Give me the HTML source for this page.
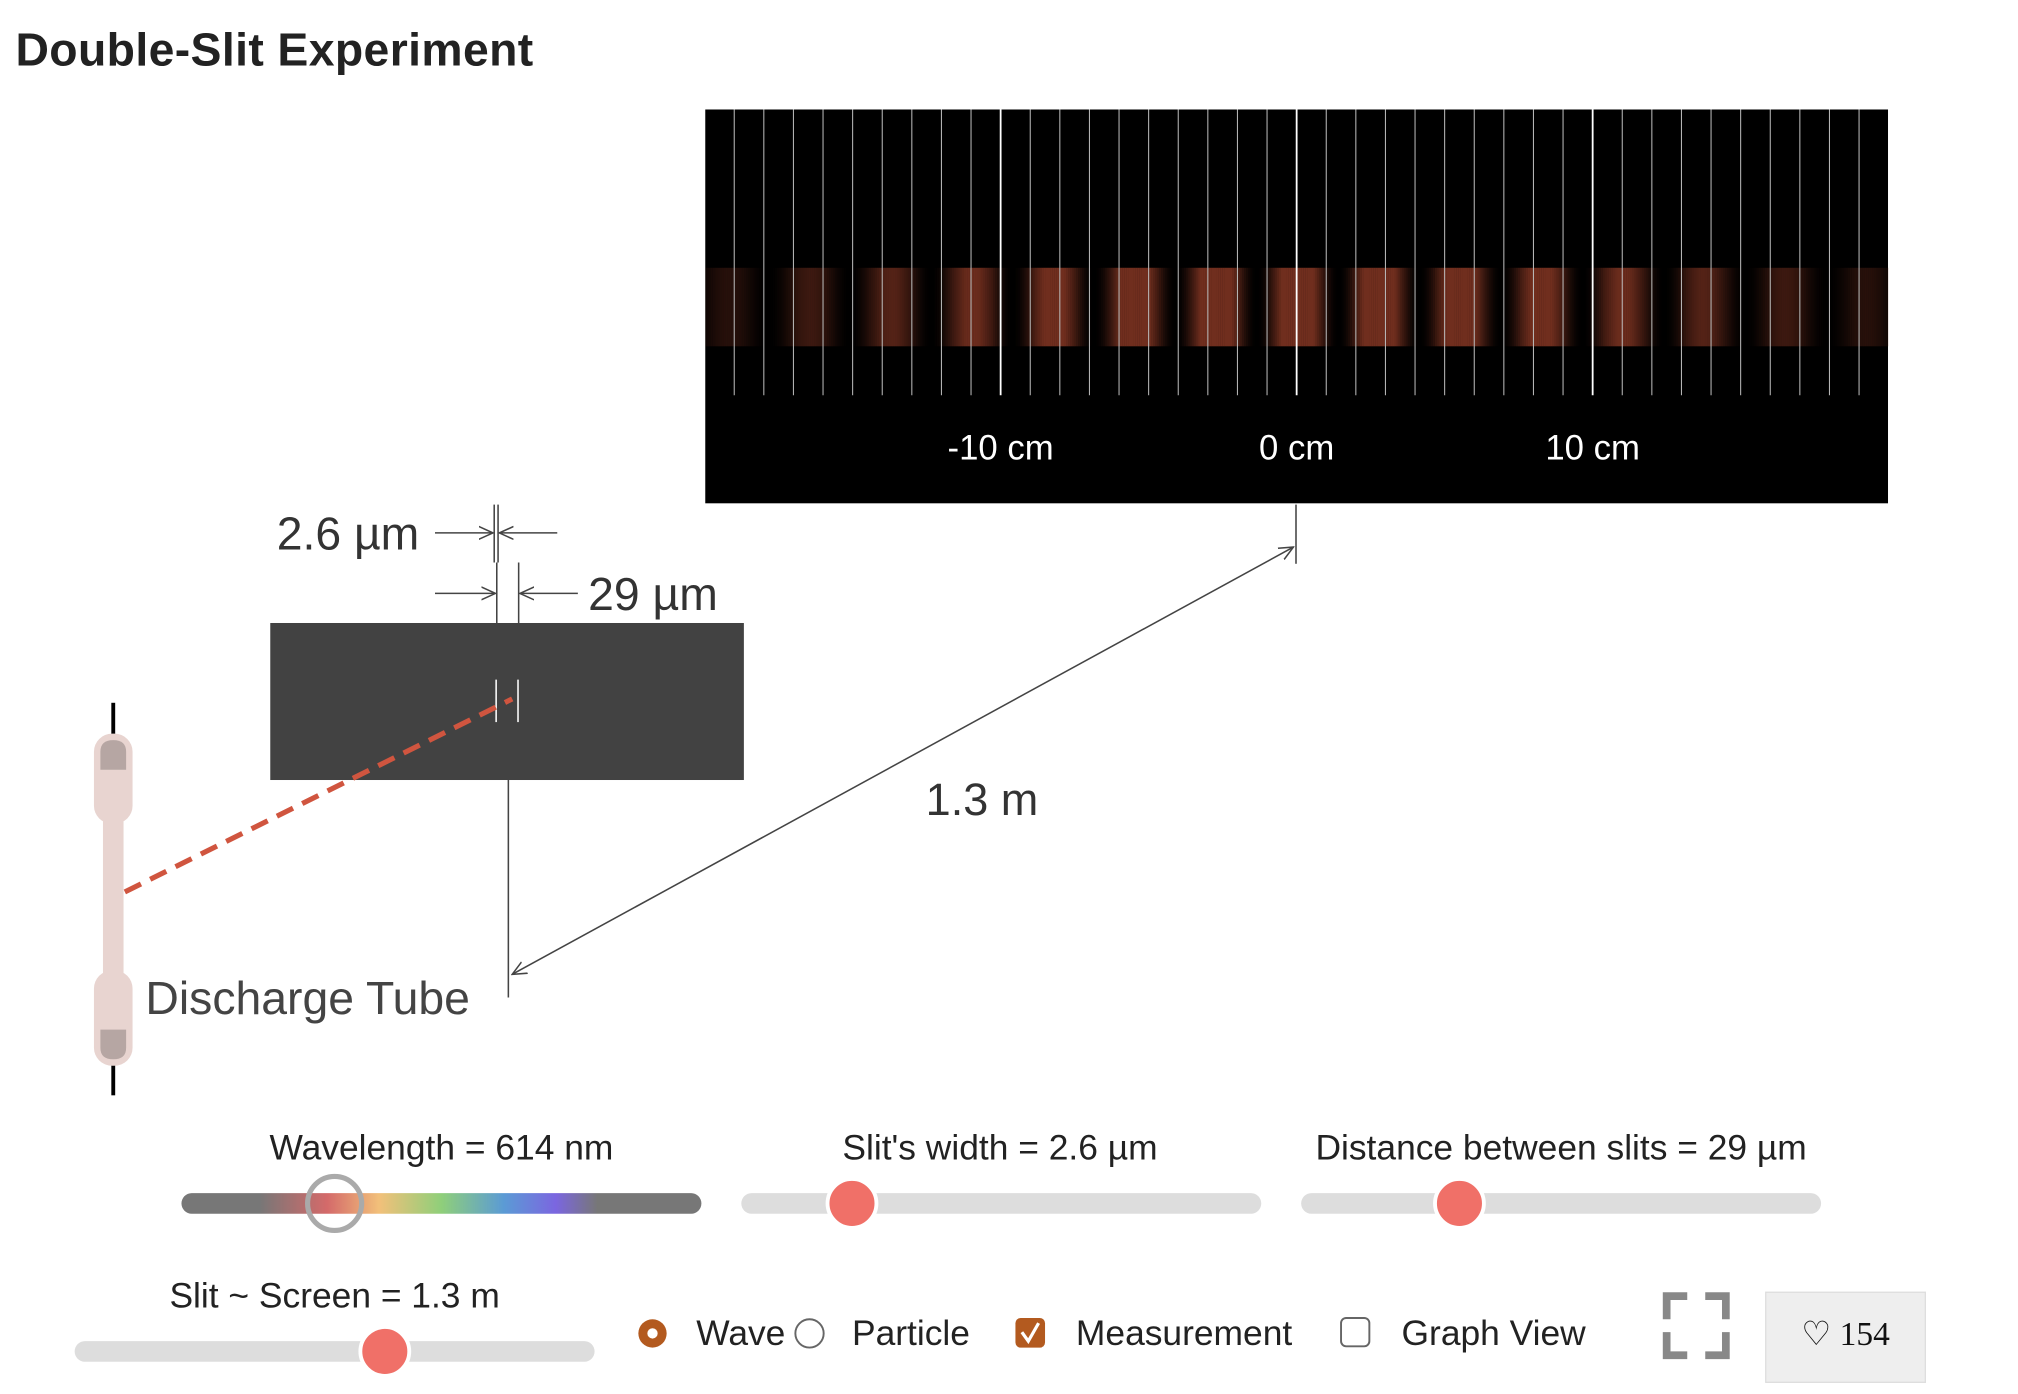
<!DOCTYPE html>
<html><head><meta charset="utf-8">
<style>
html,body{margin:0;padding:0;background:#fff;}
svg{display:block;font-family:"Liberation Sans",sans-serif;}
</style></head>
<body>
<svg id="root" width="2018" height="1394" viewBox="0 0 1568 1083">
<defs>
  <linearGradient id="spec" x1="0" x2="1" y1="0" y2="0">
    <stop offset="0" stop-color="#777"/><stop offset="0.15" stop-color="#777"/>
    <stop offset="0.28" stop-color="#d46a6a"/><stop offset="0.38" stop-color="#f2c07a"/>
    <stop offset="0.5" stop-color="#8fcf7a"/><stop offset="0.62" stop-color="#5b9bd5"/>
    <stop offset="0.72" stop-color="#7b66e0"/><stop offset="0.8" stop-color="#777"/>
    <stop offset="1" stop-color="#777"/>
  </linearGradient>
  <marker id="arr" viewBox="0 0 12 12" refX="11" refY="6" markerWidth="12" markerHeight="12" markerUnits="userSpaceOnUse" orient="auto-start-reverse">
    <path d="M0,1 L11,6 L0,11" fill="none" stroke="#444" stroke-width="1.2"/>
  </marker>
</defs>

<text x="12" y="51" font-size="36" font-weight="bold" fill="#222" letter-spacing="0.3">Double-Slit Experiment</text>

<g id="screen">
  <rect x="548" y="85" width="919" height="306" fill="#000"/>
  <g id="fringes"></g>
  <g id="grid"></g>
  <g id="ticklabels"></g>
</g>

<line x1="1007" y1="392" x2="1007" y2="438" stroke="#444" stroke-width="1.2"/>
<line x1="395" y1="606" x2="395" y2="775" stroke="#444" stroke-width="1.2"/>
<line x1="398" y1="757" x2="1005" y2="425" stroke="#444" stroke-width="1.2" marker-start="url(#arr)" marker-end="url(#arr)"/>
<text x="763" y="633" font-size="35" fill="#333" text-anchor="middle">1.3 m</text>

<rect x="210" y="484" width="368" height="122" fill="#424242"/>
<line x1="385.5" y1="528" x2="385.5" y2="561" stroke="#fff" stroke-width="1.2"/>
<line x1="402.5" y1="528" x2="402.5" y2="561" stroke="#fff" stroke-width="1.2"/>
<g stroke="#444" stroke-width="1.2" fill="none">
  <line x1="384" y1="392" x2="384" y2="437"/><line x1="387" y1="392" x2="387" y2="437"/>
  <line x1="338" y1="414" x2="383" y2="414" marker-end="url(#arr)"/>
  <line x1="433" y1="414" x2="388" y2="414" marker-end="url(#arr)"/>
</g>
<text x="215" y="427" font-size="36" fill="#333">2.6 µm</text>
<g stroke="#444" stroke-width="1.2" fill="none">
  <line x1="386" y1="437" x2="386" y2="484"/><line x1="403" y1="437" x2="403" y2="484"/>
  <line x1="338" y1="461" x2="385" y2="461" marker-end="url(#arr)"/>
  <line x1="449" y1="461" x2="404" y2="461" marker-end="url(#arr)"/>
</g>
<text x="457" y="474" font-size="36" fill="#333">29 µm</text>

<line x1="97" y1="693" x2="398" y2="543" stroke="#d0553f" stroke-width="4" stroke-dasharray="14 8"/>

<g>
  <line x1="88" y1="546" x2="88" y2="575" stroke="#000" stroke-width="3"/>
  <line x1="88" y1="824" x2="88" y2="851" stroke="#000" stroke-width="3"/>
  <rect x="73" y="570" width="30" height="70" rx="14" fill="#e8d4d0"/>
  <rect x="80" y="630" width="16" height="130" fill="#e8d4d0"/>
  <rect x="73" y="754" width="30" height="74" rx="14" fill="#e8d4d0"/>
  <path d="M78,598 L78,584 Q78,575 88,575 Q98,575 98,584 L98,598 Z" fill="#b6a6a3"/>
  <path d="M78,800 L98,800 L98,814 Q98,823 88,823 Q78,823 78,814 Z" fill="#b6a6a3"/>
</g>
<text x="113" y="788" font-size="36" fill="#444">Discharge Tube</text>

<g font-size="27.5" fill="#222" text-anchor="middle">
  <text x="343" y="901">Wavelength = 614 nm</text>
  <text x="777" y="901">Slit's width = 2.6 µm</text>
  <text x="1213" y="901">Distance between slits = 29 µm</text>
  <text x="260" y="1016">Slit ~ Screen = 1.3 m</text>
</g>
<g>
  <rect x="141" y="927" width="404" height="16" rx="8" fill="url(#spec)"/>
  <circle cx="260" cy="935" r="21" fill="none" stroke="#aaa" stroke-width="4"/>
</g>
<g>
  <rect x="576" y="927" width="404" height="16" rx="8" fill="#ddd"/>
  <circle cx="662" cy="935" r="19" fill="#f07068" stroke="#fff" stroke-width="3"/>
</g>
<g>
  <rect x="1011" y="927" width="404" height="16" rx="8" fill="#ddd"/>
  <circle cx="1134" cy="935" r="19" fill="#f07068" stroke="#fff" stroke-width="3"/>
</g>
<g>
  <rect x="58" y="1042" width="404" height="16" rx="8" fill="#ddd"/>
  <circle cx="299" cy="1050" r="19" fill="#f07068" stroke="#fff" stroke-width="3"/>
</g>

<g>
  <circle cx="507" cy="1036" r="11" fill="#b35a1f"/><circle cx="507" cy="1036" r="4" fill="#fff"/>
  <text x="541" y="1045" font-size="27.5" fill="#222">Wave</text>
</g>
<g>
  <circle cx="629" cy="1036" r="11" fill="#fff" stroke="#666" stroke-width="1.5"/>
  <text x="662" y="1045" font-size="27.5" fill="#222">Particle</text>
</g>
<g>
  <rect x="789" y="1024" width="23" height="23" rx="4" fill="#b35a1f"/>
  <path d="M794,1035 L799,1042 L807,1028" fill="none" stroke="#fff" stroke-width="2.5"/>
  <text x="836" y="1045" font-size="27.5" fill="#222">Measurement</text>
</g>
<g>
  <rect x="1042" y="1024" width="22" height="22" rx="4" fill="#fff" stroke="#666" stroke-width="1.5"/>
  <text x="1089" y="1045" font-size="27.5" fill="#222">Graph View</text>
</g>
<g fill="none" stroke="#888" stroke-width="6">
  <path d="M1295,1025 L1295,1007 L1311,1007"/><path d="M1325,1007 L1341,1007 L1341,1025"/>
  <path d="M1295,1035 L1295,1053 L1311,1053"/><path d="M1325,1053 L1341,1053 L1341,1035"/>
</g>
<g>
  <rect x="1372" y="1004" width="124" height="70" fill="#eee" stroke="#ddd"/>
  <text x="1434" y="1045" font-size="26" fill="#111" text-anchor="middle" font-family="Liberation Serif, serif">♡ 154</text>
</g>
</svg>
<script>
const wavelengthNm = [614];
const slitWidthUm = [2.6];
const slitDistanceUm = [29];
const screenDistanceM = [1.3];
const tickValuesCm = [-10, 0, 10];
const tickLabels = ["-10 cm", "0 cm", "10 cm"];

const NS = "http://www.w3.org/2000/svg";
const X0 = 548, X1 = 1467, XC = 1007.5, PX_PER_CM = 23;
function xScale(cm){ return XC + cm * PX_PER_CM; }
function intensity(cm){
  const lam = wavelengthNm[0]*1e-9, L = screenDistanceM[0], d = slitDistanceUm[0]*1e-6, a = slitWidthUm[0]*1e-6;
  const x = cm/100;
  const b = Math.PI*a*x/(lam*L);
  const s = b === 0 ? 1 : Math.sin(b)/b;
  const c = Math.cos(Math.PI*d*x/(lam*L));
  return c*c*s*s;
}
const fr = document.getElementById('fringes');
for(let px = X0; px < X1; px += 1.5){
  const cm = (px - XC)/PX_PER_CM;
  const I = Math.min(1, intensity(cm)*1.5);
  const r = document.createElementNS(NS,'rect');
  r.setAttribute('x', px); r.setAttribute('y', 208);
  r.setAttribute('width', 1.6); r.setAttribute('height', 61);
  r.setAttribute('fill', 'rgb(112,46,30)');
  r.setAttribute('opacity', I.toFixed(3));
  
  
  fr.appendChild(r);
}
const g = document.getElementById('grid');
for(let k = -19; k <= 19; k++){
  const x = xScale(k);
  if(x < X0+5 || x > X1-5) continue;
  const major = tickValuesCm.includes(k);
  const l = document.createElementNS(NS,'line');
  l.setAttribute('x1', x); l.setAttribute('x2', x);
  l.setAttribute('y1', 85); l.setAttribute('y2', 307);
  l.setAttribute('stroke', major ? '#fff' : '#bbb');
  l.setAttribute('stroke-width', major ? 1.4 : 0.8);
  
  
  g.appendChild(l);
}
const tl = document.getElementById('ticklabels');
tickValuesCm.forEach((v,i)=>{
  const t = document.createElementNS(NS,'text');
  t.setAttribute('x', xScale(v)); t.setAttribute('y', 357);
  t.setAttribute('fill', '#fff'); t.setAttribute('font-size', 27);
  t.setAttribute('text-anchor', 'middle');
  
  
  t.textContent = tickLabels[i];
  tl.appendChild(t);
});
</script>
</body></html>
